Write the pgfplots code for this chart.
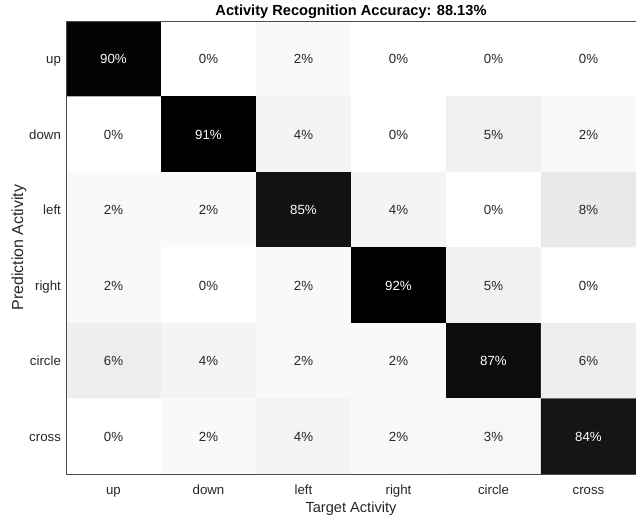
\documentclass[border=0pt]{standalone}
\usepackage{fontspec}
\setmainfont{Liberation Sans}
\usepackage{pgfplots}
\pgfplotsset{compat=1.18}
\usepackage{pgfplotstable}

\definecolor{txtgray}{HTML}{262626}

% confusion matrix, percentages; x = target, y = prediction
\pgfplotstableread{
x y c
0 0 90
1 0 0
2 0 2
3 0 0
4 0 0
5 0 0
0 1 0
1 1 91
2 1 4
3 1 0
4 1 5
5 1 2
0 2 2
1 2 2
2 2 85
3 2 4
4 2 0
5 2 8
0 3 2
1 3 0
2 3 2
3 3 92
4 3 5
5 3 0
0 4 6
1 4 4
2 4 2
3 4 2
4 4 87
5 4 6
0 5 0
1 5 2
2 5 4
3 5 2
4 5 3
5 5 84
}\cmtable

\begin{document}
\begin{tikzpicture}
\begin{axis}[
    scale only axis,
    width=570bp, height=453bp,
    xmin=-0.5, xmax=5.5, ymin=-0.5, ymax=5.5,
    y dir=reverse,
    xtick={0,...,5}, ytick={0,...,5},
    xticklabels={up,down,left,right,circle,cross},
    yticklabels={up,down,left,right,circle,cross},
    major tick length=0pt,
    /pgf/number format/assume math mode=true,
    tick label style={font=\fontsize{13.3}{16}\selectfont, text=txtgray},
    xticklabel style={anchor=base, yshift=-20bp},
    yticklabel style={anchor=base east, yshift=-4.8bp, xshift=-1.6bp},
    xlabel={Target Activity},
    ylabel={Prediction Activity},
    xlabel style={font=\fontsize{14.67}{17}\selectfont, text=txtgray,
        at={(axis description cs:0.5,0)}, anchor=base, yshift=-38bp},
    ylabel style={font=\fontsize{16}{19}\selectfont, text=txtgray,
        at={(axis description cs:-0.0754,0.5)}, anchor=base},
    every axis title shift=0pt,
    title={Activity Recognition Accuracy: 88.13\%},
    title style={font=\bfseries\fontsize{14.67}{17}\selectfont, text=black,
        at={(axis description cs:0.5,1)}, anchor=base, yshift=5.5bp},
    colormap={bw}{color=(white) color=(black)},
    point meta min=0, point meta max=92,
    axis line style={black!70, line width=0.6pt},
    axis on top,
]
\addplot[matrix plot*, mesh/cols=6, point meta=explicit] table[meta=c] {\cmtable};

% labels on dark cells
\addplot[only marks, mark=none, point meta=explicit,
    restrict expr to domain={\thisrow{c}}{50:100},
    nodes near coords={\pgfmathprintnumber{\pgfplotspointmeta}\%},
    every node near coord/.append style={anchor=base, yshift=-4.8bp, text=white,
        font=\fontsize{13.3}{16}\selectfont}]
    table[meta=c] {\cmtable};

% labels on light cells
\addplot[only marks, mark=none, point meta=explicit,
    restrict expr to domain={\thisrow{c}}{-1:49},
    nodes near coords={\pgfmathprintnumber{\pgfplotspointmeta}\%},
    every node near coord/.append style={anchor=base, yshift=-4.8bp, text=txtgray,
        font=\fontsize{13.3}{16}\selectfont}]
    table[meta=c] {\cmtable};
\end{axis}
\pgfresetboundingbox
\path[use as bounding box] ([shift={(-66bp,-43bp)}]current axis.south west)
    rectangle ([shift={(0bp,21bp)}]current axis.north east);
\end{tikzpicture}
\end{document}
